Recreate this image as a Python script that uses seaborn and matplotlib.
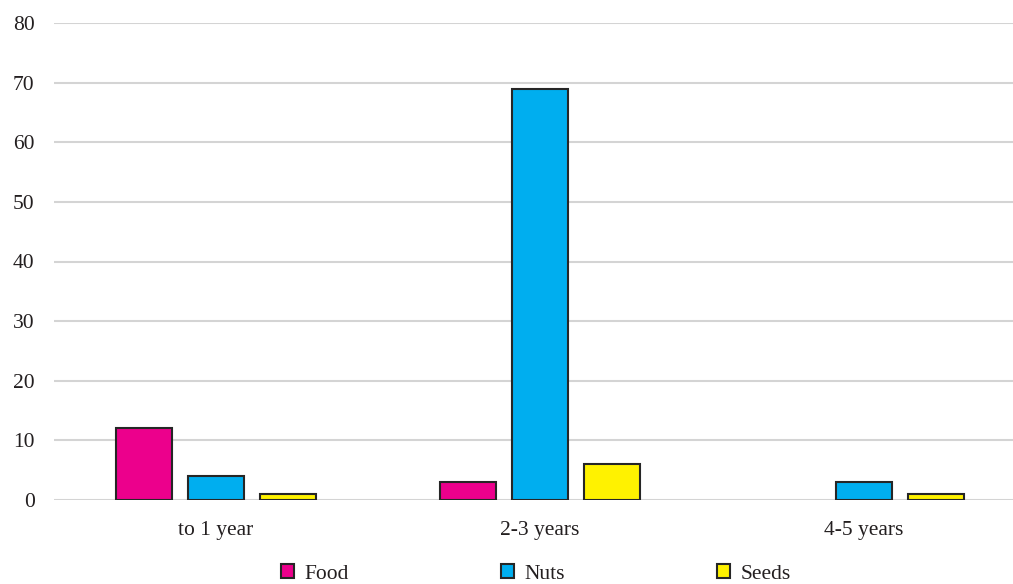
import pandas as pd
import matplotlib.pyplot as plt
from matplotlib.patches import Rectangle
import seaborn as sns

groups = ['to 1 year', '2-3 years', '4-5 years']
food = [12, 3, 0]
nuts = [4, 69, 3]
seeds = [1, 6, 1]
series = ['Food', 'Nuts', 'Seeds']
colors = ['#EC008C', '#00AEEF', '#FFF200']

df = pd.DataFrame({
    'group': groups * 3,
    'value': food + nuts + seeds,
    'series': [s for s in series for _ in groups],
})

sns.set_style('white')
plt.rcParams['font.family'] = ['Liberation Serif', 'DejaVu Serif']

fig = plt.figure(figsize=(10.13, 5.84), dpi=100)
ax = fig.add_axes([54 / 1013, 84 / 584, 972 / 1013, 477 / 584])

sns.barplot(data=df, x='group', y='value', hue='series', palette=colors,
            order=groups, hue_order=series, width=0.667, gap=0.21,
            edgecolor='#262626', linewidth=1.5, saturation=1, legend=False,
            ax=ax)

# hide empty bars so no flat outline sits on the baseline
for p in ax.patches:
    if p.get_height() == 0:
        p.set_visible(False)

ax.set_ylim(0, 80)
ax.set_yticks(range(0, 81, 10))
ax.set_xlim(-0.5, 2.5)
ax.yaxis.grid(True, color='#d4d4d4', linewidth=1.5)
ax.set_axisbelow(True)
for s in ax.spines.values():
    s.set_visible(False)
ax.tick_params(axis='both', length=0, labelsize=15.5, colors='#231f20')
ax.tick_params(axis='y', pad=14)
ax.tick_params(axis='x', pad=15)
ax.set_xlabel('')
ax.set_ylabel('')

handles = [Rectangle((0, 0), 1, 1, facecolor=c, edgecolor='#262626',
                     linewidth=1.5) for c in colors]
fig.legend(handles, series, loc='center', bbox_to_anchor=(536 / 1013, 10 / 584),
           ncol=3, frameon=False, fontsize=15.5, handlelength=0.6,
           handleheight=0.6, handletextpad=0.5, columnspacing=7.05,
           labelcolor='#231f20')

fig.savefig('out.png', dpi=100)
